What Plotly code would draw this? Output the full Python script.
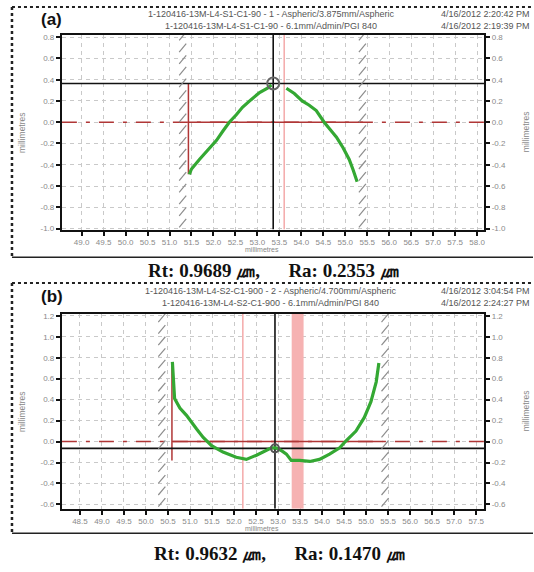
import plotly.graph_objects as go
import numpy as np

W, H = 534, 572

# ---------------- data: panel (a) ----------------
a_left_x = [51.45, 51.50, 51.68, 51.88, 52.07, 52.22, 52.36, 52.52, 52.66, 52.85, 53.05, 53.23, 53.32]
a_left_y = [-0.49, -0.44, -0.35, -0.26, -0.17, -0.08, 0.00, 0.07, 0.14, 0.21, 0.28, 0.32, 0.35]
a_right_x = [53.66, 53.84, 54.02, 54.18, 54.34, 54.52, 54.66, 54.80, 54.95, 55.09, 55.18, 55.27]
a_right_y = [0.32, 0.27, 0.20, 0.16, 0.11, 0.00, -0.07, -0.14, -0.24, -0.35, -0.45, -0.56]
a_cursor = (53.36, 0.365)
a_red_x = 51.43
a_red_end = 55.40
a_pink = [53.61]
a_hatch = [51.30, 55.39]
a_xticks = [49.0 + 0.5 * i for i in range(19)]
a_yticks = [-1.0, -0.8, -0.6, -0.4, -0.2, 0.0, 0.2, 0.4, 0.6, 0.8]
a_xrange = [48.55, 58.16]
a_yrange = [-1.01, 0.824]

# ---------------- data: panel (b) ----------------
b_x = [50.60, 50.62, 50.65, 50.77, 50.92, 51.15, 51.30, 51.49, 51.75, 52.05, 52.28, 52.51, 52.73, 52.85,
       52.95, 53.07, 53.19, 53.30, 53.49, 53.72, 53.94, 54.17, 54.40, 54.55, 54.77, 54.96, 55.11, 55.23, 55.29]
b_y = [0.76, 0.54, 0.41, 0.32, 0.25, 0.12, 0.04, -0.04, -0.10, -0.15, -0.17, -0.13, -0.085, -0.06,
       -0.06, -0.085, -0.12, -0.18, -0.18, -0.19, -0.17, -0.12, -0.06, 0.01, 0.10, 0.23, 0.38, 0.57, 0.75]
b_cursor = (52.93, -0.065)
b_red_x = 50.59
b_red_end = 55.37
b_pink = [52.20]
b_band = (53.31, 53.58)
b_hatch = [50.36, 55.43]
b_xticks = [48.5 + 0.5 * i for i in range(19)]
b_yticks = [-0.6, -0.4, -0.2, 0.0, 0.2, 0.4, 0.6, 0.8, 1.0, 1.2]
b_xrange = [48.09, 57.68]
b_yrange = [-0.64, 1.22]

headers_a = ["1-120416-13M-L4-S1-C1-90 - 1 - Aspheric/3.875mm/Aspheric",
             "1-120416-13M-L4-S1-C1-90 - 6.1mm/Admin/PGI 840"]
dates_a = ["4/16/2012 2:20:42 PM", "4/16/2012 2:19:39 PM"]
headers_b = ["1-120416-13M-L4-S2-C1-900 - 2 - Aspheric/4.700mm/Aspheric",
             "1-120416-13M-L4-S2-C1-900 - 6.1mm/Admin/PGI 840"]
dates_b = ["4/16/2012 3:04:54 PM", "4/16/2012 2:24:27 PM"]
caption_a = "Rt: 0.9689 ㎛,      Ra: 0.2353 ㎛"
caption_b = "Rt: 0.9632 ㎛,      Ra: 0.1470 ㎛"

GREEN = "#34a833"
RED = "#b03636"
PINK = "#f4a9a9"
GRID = "#c9c9c9"
TICKC = "#8a8a8a"


def pxx(x):
    return x / W


def pxy(y):
    return 1 - y / H


XDOM = [pxx(62), pxx(485)]
A_YDOM = [pxy(230), pxy(33)]
B_YDOM = [pxy(512), pxy(315)]

fig = go.Figure()


def hatch_trace(xs, yr, xref, yref):
    hx, hy = [], []
    for xh in xs:
        for y0 in np.arange(yr[0] + 0.02, yr[1] - 0.05, 0.11):
            hx += [xh - 0.08, xh + 0.08, None]
            hy += [y0, y0 + 0.08, None]
    return go.Scatter(x=hx, y=hy, mode="lines", xaxis=xref, yaxis=yref,
                      line=dict(color="#8c8c8c", width=1.2), hoverinfo="skip", showlegend=False)


# hatches
fig.add_trace(hatch_trace(a_hatch, a_yrange, "x", "y"))
fig.add_trace(hatch_trace(b_hatch, b_yrange, "x2", "y2"))

# green profiles
fig.add_trace(go.Scatter(x=a_left_x, y=a_left_y, mode="lines", xaxis="x", yaxis="y",
                         line=dict(color=GREEN, width=3.2), hoverinfo="skip", showlegend=False))
fig.add_trace(go.Scatter(x=a_right_x, y=a_right_y, mode="lines", xaxis="x", yaxis="y",
                         line=dict(color=GREEN, width=3.2), hoverinfo="skip", showlegend=False))
fig.add_trace(go.Scatter(x=b_x, y=b_y, mode="lines", xaxis="x2", yaxis="y2",
                         line=dict(color=GREEN, width=3.2), hoverinfo="skip", showlegend=False))

# cursor markers (on overlay right axes, so those axes get drawn)
fig.add_trace(go.Scatter(x=[a_cursor[0]], y=[a_cursor[1]], mode="markers", xaxis="x", yaxis="y3",
                         marker=dict(symbol="circle-open", size=12, color="#666", line=dict(width=2)),
                         hoverinfo="skip", showlegend=False))
fig.add_trace(go.Scatter(x=[b_cursor[0]], y=[b_cursor[1]], mode="markers", xaxis="x2", yaxis="y4",
                         marker=dict(symbol="circle-open", size=8, color="#555", line=dict(width=2)),
                         hoverinfo="skip", showlegend=False))

shapes = []


def panel_shapes(xref, yref, xr, yr, cursor, red_x, red_end, pinks, ymin, ymax, band=None):
    s = []
    if band is not None:
        s.append(dict(type="rect", xref=xref, yref=yref, x0=band[0], x1=band[1], y0=yr[0], y1=yr[1],
                      fillcolor="#f6b2b2", line=dict(width=0), layer="between"))
    for p in pinks:
        s.append(dict(type="line", xref=xref, yref=yref, x0=p, x1=p, y0=yr[0], y1=yr[1],
                      line=dict(color=PINK, width=1.5), layer="between"))
    s.append(dict(type="line", xref=xref, yref=yref, x0=xr[0], x1=xr[1], y0=0, y1=0,
                  line=dict(color=RED, width=1.5, dash="15px,9px,4px,9px"), layer="between"))
    s.append(dict(type="line", xref=xref, yref=yref, x0=red_x, x1=red_end, y0=0, y1=0,
                  line=dict(color=RED, width=1.5), layer="between"))
    s.append(dict(type="line", xref=xref, yref=yref, x0=red_x, x1=red_x, y0=ymin, y1=ymax,
                  line=dict(color=RED, width=1.5), layer="between"))
    s.append(dict(type="line", xref=xref, yref=yref, x0=cursor[0], x1=cursor[0], y0=yr[0], y1=yr[1],
                  line=dict(color="#111", width=1.6), layer="between"))
    s.append(dict(type="line", xref=xref, yref=yref, x0=xr[0], x1=xr[1], y0=cursor[1], y1=cursor[1],
                  line=dict(color="#111", width=1.6), layer="between"))
    return s


shapes += panel_shapes("x", "y", a_xrange, a_yrange, a_cursor, a_red_x, a_red_end, a_pink,
                       min(a_left_y), a_cursor[1])
shapes += panel_shapes("x2", "y2", b_xrange, b_yrange, b_cursor, b_red_x, b_red_end, b_pink,
                       -0.18, max(b_y), band=b_band)

# outer dotted boxes
for top, bot in [(5, 258), (284, 537)]:
    shapes.append(dict(type="line", xref="paper", yref="paper", x0=pxx(12), x1=pxx(534), y0=pxy(top), y1=pxy(top),
                       line=dict(color="#222", width=2, dash="dot")))
    shapes.append(dict(type="line", xref="paper", yref="paper", x0=pxx(12), x1=pxx(12), y0=pxy(top), y1=pxy(bot),
                       line=dict(color="#222", width=2.5, dash="dot")))
    shapes.append(dict(type="line", xref="paper", yref="paper", x0=pxx(12), x1=pxx(534), y0=pxy(bot), y1=pxy(bot),
                       line=dict(color="#222", width=1.5)))

ann = []
FONT = "Liberation Sans, Arial, sans-serif"


def text(x, y, t, size, color="#555", xanchor="center", bold=False, angle=0, family=FONT, align="center"):
    ann.append(dict(x=pxx(x), y=pxy(y), xref="paper", yref="paper", text=("<b>%s</b>" % t) if bold else t,
                    showarrow=False, xanchor=xanchor, yanchor="middle", textangle=angle, align=align,
                    borderpad=0, font=dict(size=size, color=color, family=family)))


for (hdrs, dts, top, lab) in [(headers_a, dates_a, 0, "(a)"), (headers_b, dates_b, 280, "(b)")]:
    text(272, top + 18, "<br>".join(hdrs), 9)
    text(532, top + 18, "<br>".join(dts), 9, xanchor="right", align="right")
    text(52, top + 18, lab, 17, color="#111", bold=True)

for top, bot in [(33, 230), (315, 512)]:
    text(262, bot + 20, "millimetres", 7, color="#888")
    text(22, (top + bot) / 2, "millimetres", 8.5, color="#888", angle=-90)
    text(527, (top + bot) / 2, "millimetres", 8.5, color="#888", angle=-90)

SERIF = "Liberation Serif, Times New Roman, serif"
text(274, 271, caption_a, 19, color="#111", bold=True, family=SERIF)
text(280, 557, caption_b, 19, color="#111", bold=True, family=SERIF)


def fmt(v):
    return "%.1f" % v


axis_common = dict(showline=True, linewidth=2, linecolor="#111", ticks="outside", ticklen=4, tickwidth=1.5,
                   tickcolor="#111", tickfont=dict(size=8, color=TICKC, family=FONT), zeroline=False,
                   showgrid=True, gridcolor=GRID, griddash="4px,4px", gridwidth=1)

layout_axes = dict(
    xaxis=dict(domain=XDOM, anchor="y", range=a_xrange, tickvals=a_xticks, ticktext=[fmt(v) for v in a_xticks],
               mirror=True, **axis_common),
    yaxis=dict(domain=A_YDOM, anchor="x", range=a_yrange, tickvals=a_yticks, ticktext=[fmt(v) for v in a_yticks],
               mirror=True, **axis_common),
    yaxis3=dict(overlaying="y", side="right", anchor="x", range=a_yrange, tickvals=a_yticks,
                ticktext=[fmt(v) for v in a_yticks], **{**axis_common, "showgrid": False}),
    xaxis2=dict(domain=XDOM, anchor="y2", range=b_xrange, tickvals=b_xticks, ticktext=[fmt(v) for v in b_xticks],
                mirror=True, **axis_common),
    yaxis2=dict(domain=B_YDOM, anchor="x2", range=b_yrange, tickvals=b_yticks, ticktext=[fmt(v) for v in b_yticks],
                mirror=True, **axis_common),
    yaxis4=dict(overlaying="y2", side="right", anchor="x2", range=b_yrange, tickvals=b_yticks,
                ticktext=[fmt(v) for v in b_yticks], **{**axis_common, "showgrid": False}),
)

fig.update_layout(width=W, height=H, margin=dict(l=0, r=0, t=0, b=0), paper_bgcolor="white",
                  plot_bgcolor="white", showlegend=False, shapes=shapes, annotations=ann, **layout_axes)

fig.write_html("out.html", config={"displayModeBar": False},
               post_script="document.body.style.margin='0';")
